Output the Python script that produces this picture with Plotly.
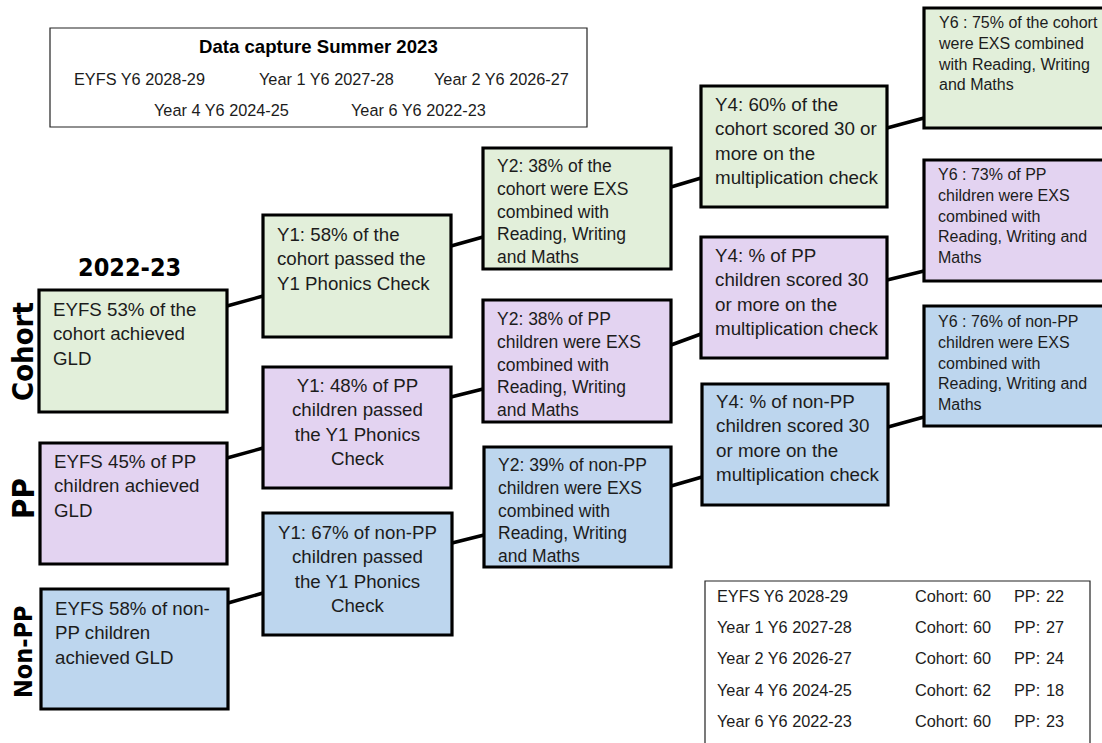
import plotly.graph_objects as go

# ---------------- data ----------------
groups = ["Cohort", "PP", "Non-PP"]
stages = ["EYFS", "Y1", "Y2", "Y4", "Y6"]
year_label = "2022-23"

cohort_texts = [
    "EYFS 53% of the<br>cohort achieved<br>GLD",
    "Y1: 58% of the<br>cohort passed the<br>Y1 Phonics Check",
    "Y2: 38% of the<br>cohort were EXS<br>combined with<br>Reading, Writing<br>and Maths",
    "Y4: 60% of the<br>cohort scored 30 or<br>more on the<br>multiplication check",
    "Y6 : 75% of the cohort<br>were EXS combined<br>with Reading, Writing<br>and Maths",
]
pp_texts = [
    "EYFS 45% of PP<br>children achieved<br>GLD",
    "Y1: 48% of PP<br>children passed<br>the Y1 Phonics<br>Check",
    "Y2: 38% of PP<br>children were EXS<br>combined with<br>Reading, Writing<br>and Maths",
    "Y4: % of PP<br>children scored 30<br>or more on the<br>multiplication check",
    "Y6 : 73% of PP<br>children were EXS<br>combined with<br>Reading, Writing and<br>Maths",
]
nonpp_texts = [
    "EYFS 58% of non-<br>PP children<br>achieved GLD",
    "Y1: 67% of non-PP<br>children passed<br>the Y1 Phonics<br>Check",
    "Y2: 39% of non-PP<br>children were EXS<br>combined with<br>Reading, Writing<br>and Maths",
    "Y4: % of non-PP<br>children scored 30<br>or more on the<br>multiplication check",
    "Y6 : 76% of non-PP<br>children were EXS<br>combined with<br>Reading, Writing and<br>Maths",
]
legend_title = "Data capture Summer 2023"
legend_items = ["EYFS Y6 2028-29", "Year 1 Y6 2027-28", "Year 2 Y6 2026-27",
                "Year 4 Y6 2024-25", "Year 6 Y6 2022-23"]
table_years = ["EYFS Y6 2028-29", "Year 1 Y6 2027-28", "Year 2 Y6 2026-27",
               "Year 4 Y6 2024-25", "Year 6 Y6 2022-23"]
table_cohort = [60, 60, 60, 62, 60]
table_pp = [22, 27, 24, 18, 23]

# ---------------- layout / style ----------------
W, H = 1102, 743
fills = {"Cohort": "#E2EFDA", "PP": "#E3D3F1", "Non-PP": "#BDD6EE"}
txt_col = "#1c1c1c"
base_font = "Liberation Sans, Arial, sans-serif"
heavy_font = "Impact, Liberation Sans Narrow, DejaVu Sans Condensed, DejaVu Sans, sans-serif"

# box geometry (x0, x1, y0, y1) in pixels, per group, per stage
boxes = {
    "Cohort": [(39, 227, 290, 412), (263, 451, 215, 337), (483, 671, 148, 269),
               (701, 887, 86, 207), (924, 1112, 8, 128)],
    "PP": [(40, 227, 443, 564), (263, 451, 367, 488), (483, 671, 300, 422),
           (701, 887, 237, 358), (924, 1112, 160, 281)],
    "Non-PP": [(41, 228, 589, 709), (263, 452, 513, 635), (484, 671, 447, 567),
               (702, 888, 384, 505), (924, 1112, 306, 426)],
}
first_line = {
    "Cohort": [310, 235, 166, 105, 23],
    "PP": [462, 386, 319, 256, 175],
    "Non-PP": [609, 533, 465, 402, 322],
}
stage_font = [18.7, 18.7, 17.5, 18.8, 16]
connectors = {
    "Cohort": [(306, 296), (246, 237), (187, 178), (128, 118)],
    "PP": [(458, 448), (397, 389), (345, 334), (280, 271)],
    "Non-PP": [(603, 593), (543, 535), (486, 477), (427, 417)],
}
group_label_pos = {"Cohort": (23, 352), "PP": (23, 499), "Non-PP": (23, 652)}
group_label_size = {"Cohort": 29, "PP": 31, "Non-PP": 25}

texts = {"Cohort": cohort_texts, "PP": pp_texts, "Non-PP": nonpp_texts}

fig = go.Figure()
shapes = []
annotations = []

# connectors (drawn first, under the boxes)
for g in groups:
    for i, (ya, yb) in enumerate(connectors[g]):
        xa = boxes[g][i][1]
        xb = boxes[g][i + 1][0]
        shapes.append(dict(type="line", xref="x", yref="y", x0=xa, x1=xb, y0=ya, y1=yb,
                           line=dict(color="#000000", width=3.5)))

# boxes + text
for g in groups:
    for i, st in enumerate(stages):
        x0, x1, y0, y1 = boxes[g][i]
        shapes.append(dict(type="rect", xref="x", yref="y", x0=x0, x1=x1, y0=y0, y1=y1,
                           fillcolor=fills[g], line=dict(color="#000000", width=3.2)))
        f = stage_font[i]
        top = first_line[g][i] - 0.65 * f
        if st == "Y1" and g != "Cohort":
            annotations.append(dict(x=(x0 + x1) / 2, y=top, xref="x", yref="y",
                                    text=texts[g][i], showarrow=False, xanchor="center",
                                    yanchor="top", align="center", borderpad=0,
                                    font=dict(family=base_font, size=f, color=txt_col)))
        else:
            annotations.append(dict(x=x0 + 13, y=top, xref="x", yref="y",
                                    text=texts[g][i], showarrow=False, xanchor="left",
                                    yanchor="top", align="left", borderpad=0,
                                    font=dict(family=base_font, size=f, color=txt_col)))

# group labels (rotated)
for g in groups:
    gx, gy = group_label_pos[g]
    annotations.append(dict(x=gx, y=gy, xref="x", yref="y", text="<b>" + g + "</b>",
                            textangle=-90, showarrow=False, xanchor="center", yanchor="middle",
                            font=dict(family=heavy_font, size=group_label_size[g],
                                      color="#000000")))
annotations.append(dict(x=129, y=267, xref="x", yref="y", text="<b>" + year_label + "</b>",
                        showarrow=False, xanchor="center", yanchor="middle",
                        font=dict(family=heavy_font, size=25, color="#000000")))

# legend box (top)
shapes.append(dict(type="rect", xref="x", yref="y", x0=50, x1=587, y0=28, y1=127,
                   line=dict(color="#222222", width=1.2), fillcolor="rgba(0,0,0,0)"))
annotations.append(dict(x=318, y=46, xref="x", yref="y", text="<b>" + legend_title + "</b>",
                        showarrow=False, xanchor="center", yanchor="middle",
                        font=dict(family=base_font, size=18.6, color="#000000")))
legend_pos = [(72, 79), (257, 79), (432, 79), (152, 110), (349, 110)]
for item, (lx, ly) in zip(legend_items, legend_pos):
    annotations.append(dict(x=lx, y=ly, xref="x", yref="y", text=item, showarrow=False,
                            xanchor="left", yanchor="middle",
                            font=dict(family=base_font, size=16.3, color=txt_col)))

# table box (bottom right)
shapes.append(dict(type="rect", xref="x", yref="y", x0=705, x1=1090, y0=581, y1=770,
                   line=dict(color="#222222", width=1.2), fillcolor="rgba(0,0,0,0)"))
row_y = [596, 627, 658, 690, 721]
for yr, c, p, ry in zip(table_years, table_cohort, table_pp, row_y):
    annotations.append(dict(x=715, y=ry, xref="x", yref="y", text=yr, showarrow=False,
                            xanchor="left", yanchor="middle",
                            font=dict(family=base_font, size=16.3, color=txt_col)))
    annotations.append(dict(x=913, y=ry, xref="x", yref="y", text="Cohort: %d" % c,
                            showarrow=False, xanchor="left", yanchor="middle",
                            font=dict(family=base_font, size=16.3, color=txt_col)))
    annotations.append(dict(x=1012, y=ry, xref="x", yref="y", text="PP:", showarrow=False,
                            xanchor="left", yanchor="middle",
                            font=dict(family=base_font, size=16.3, color=txt_col)))
    annotations.append(dict(x=1066, y=ry, xref="x", yref="y", text=str(p), showarrow=False,
                            xanchor="right", yanchor="middle",
                            font=dict(family=base_font, size=16.3, color=txt_col)))

fig.update_layout(
    width=W, height=H,
    margin=dict(l=0, r=0, t=0, b=0),
    paper_bgcolor="#ffffff", plot_bgcolor="#ffffff",
    xaxis=dict(range=[0, W], visible=False, fixedrange=True),
    yaxis=dict(range=[H, 0], visible=False, fixedrange=True),
    shapes=shapes, annotations=annotations, showlegend=False,
)
fig.write_html("out.html", config={"displayModeBar": False},
               post_script="document.body.style.margin='0';document.body.style.overflow='hidden';")
